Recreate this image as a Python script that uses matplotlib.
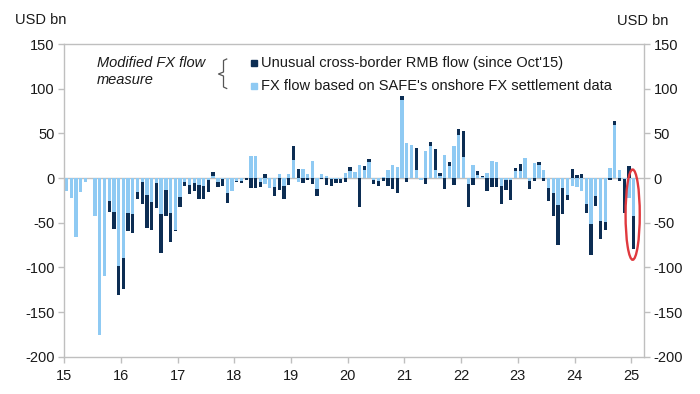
import numpy as np
import matplotlib
matplotlib.use("Agg")
import matplotlib.pyplot as plt
from matplotlib.patches import Ellipse, Rectangle
from matplotlib.lines import Line2D
import matplotlib.transforms as mtransforms

plt.rcParams['font.family'] = ['Liberation Sans', 'DejaVu Sans']
plt.rcParams['axes.unicode_minus'] = False

# monthly data, Jan 2015 - Jan 2025 (USD bn)
fx_settlement = [
    -14, -22, -66, -16, -5, 0, -42, -176, -110, -26, -38, -99,       # 2015
    -89, -39, -40, -16, -5, -19.5, -27, -6, -40, -13, -39, -58,      # 2016
    -21, -4, -7.5, -5.6, -7.5, -9, -2, 2, -5, -1, -16.5, -14,        # 2017
    -3, -3, 0, 25, 25, -4, -7, -11, -10, 4, -9, 4,                   # 2018
    20.5, -5, 10, 4, 18.6, -12, 4, 2, -1, -1, -1, 5.6,               # 2019
    7.5, 6.3, 15, 9.3, 17.5, -2, -3.7, 1, 9.3, 14.5, 12.3, 87,       # 2020
    39, 37, 9.3, -2, 30.6, 35.4, 9.3, 2.6, 26, 13.8, 36, 48.5,       # 2021
    24, -6.7, 15, 3.7, 1, 5.6, 18.6, 17.5, -9.3, -2, -2.5, 8,        # 2022
    8.2, 22.4, -3.7, 16.8, 15, 8.6, -11, -16.8, -30.6, -11, -18.6, -9.3,  # 2023
    -10, -15, -28.7, -51.5, -20.5, -48.5, -49, 11.2, 59.7, 9.3, -1, -22.4,  # 2024
    -42,                                                             # 2025
]
unusual_rmb = [
    0, 0, 0, 0, 0, 0, 0, 0, 0, -12, -19, -32,
    -35, -20, -21, -8, -24, -36.5, -31, -28, -44, -29, -33, -1,
    -11, -5, -10, -9.4, -16.5, -15, -14, 4.5, -5, -7.5, -12, -1,
    -2, -3, -2.5, -11, -11, -6, 5, 0, -10.5, -13, -15, -7.5,
    15.5, 10, -5.6, -2.6, -6.3, -8, -1, -7.5, -7.5, -4.5, -4.5, -4,
    5, 0, -32.5, 4.5, 3.5, -4.7, -5.6, -3.7, -9.3, -12, -16.8, 5,
    -5, 0, 24.3, 0, -6.7, 4.6, 23.2, 3, -12.3, 3.7, -7.5, 6.5,
    29, -25.3, -7.5, 4.5, 1.6, -15, -10, -10, -19.4, -11, -22, 3.5,
    7.5, 0, -8.6, -3.7, 2.5, -3.7, -15, -25.2, -44, -29, -6.4, 10,
    3.7, 4.5, -10.3, -34.5, -11.2, -19.8, -9, -2.6, 3.7, -3.7, -38, 14,
    -38,
]
year_labels = ['15', '16', '17', '18', '19', '20', '21', '22', '23', '24', '25']

dark = '#0c2d53'
light = '#8fcaf3'
grey = '#bfbfbf'

light_v = np.array(fx_settlement)
dark_v = np.array(unusual_rmb)
x = np.arange(len(light_v))
# dark bars stack on the light ones when both go the same way
bottom = np.where(np.sign(dark_v) == np.sign(light_v), light_v, 0)

fig = plt.figure(figsize=(7, 3.94), dpi=100)
ax = fig.add_axes([64.3 / 700, 1 - 356.7 / 394, (644 - 64.3) / 700, (356.7 - 44) / 394])

ax.bar(x, light_v, width=0.7, color=light, zorder=2)
ax.bar(x, dark_v, width=0.7, bottom=bottom, color=dark, zorder=3)
ax.axhline(0, color=grey, lw=1, zorder=1)

ax.set_xlim(-0.5, 122.2)
ax.set_ylim(-200, 150)
ax.set_yticks(np.arange(-200, 151, 50))
ax.set_xticks(np.arange(0, 121, 12) - 0.5)
ax.set_xticklabels(year_labels)
for lbl in ax.get_xticklabels():
    lbl.set_transform(lbl.get_transform() + mtransforms.ScaledTranslation(3 / 100, 0, fig.dpi_scale_trans))

for s in ax.spines.values():
    s.set_color(grey)
    s.set_linewidth(1)
ax.tick_params(axis='both', colors=grey, labelcolor='#1a1a1a', labelsize=10.5,
               length=4, width=1, direction='out')
ax.tick_params(axis='y', right=True, labelright=True, pad=3)
ax.tick_params(axis='x', pad=5)

# highlight last two months
ax.add_patch(Ellipse((119.8, -41), 3.0, 101, fill=False, edgecolor='#e0393e', lw=1.7, zorder=4))

fig.text(15 / 700, 1 - 20 / 394, 'USD bn', fontsize=10.5, va='center', ha='left', color='#1a1a1a')
fig.text(617 / 700, 1 - 21 / 394, 'USD bn', fontsize=10.5, va='center', ha='left', color='#1a1a1a')

# legend
fig.text(97 / 700, 1 - 63 / 394, 'Modified FX flow', fontsize=10.5, style='italic', va='center', color='#1a1a1a')
fig.text(97 / 700, 1 - 80 / 394, 'measure', fontsize=10.5, style='italic', va='center', color='#1a1a1a')
bx = [226.7, 223.5, 223.5, 218.5, 223.5, 223.5, 226.7]
by = [59, 60.5, 72, 74, 76, 87, 88.5]
fig.lines.append(Line2D([v / 700 for v in bx], [1 - v / 394 for v in by],
                        transform=fig.transFigure, color='#555555', lw=0.9))
fig.patches.append(Rectangle((251 / 700, 1 - 66 / 394), 6 / 700, 6 / 394,
                             transform=fig.transFigure, color=dark))
fig.patches.append(Rectangle((251 / 700, 1 - 89 / 394), 6 / 700, 6 / 394,
                             transform=fig.transFigure, color=light))
fig.text(261 / 700, 1 - 63 / 394, "Unusual cross-border RMB flow (since Oct'15)",
         fontsize=10.5, va='center', color='#1a1a1a')
fig.text(261 / 700, 1 - 86 / 394, "FX flow based on SAFE's onshore FX settlement data",
         fontsize=10.5, va='center', color='#1a1a1a')

fig.savefig('out.png', dpi=100)
